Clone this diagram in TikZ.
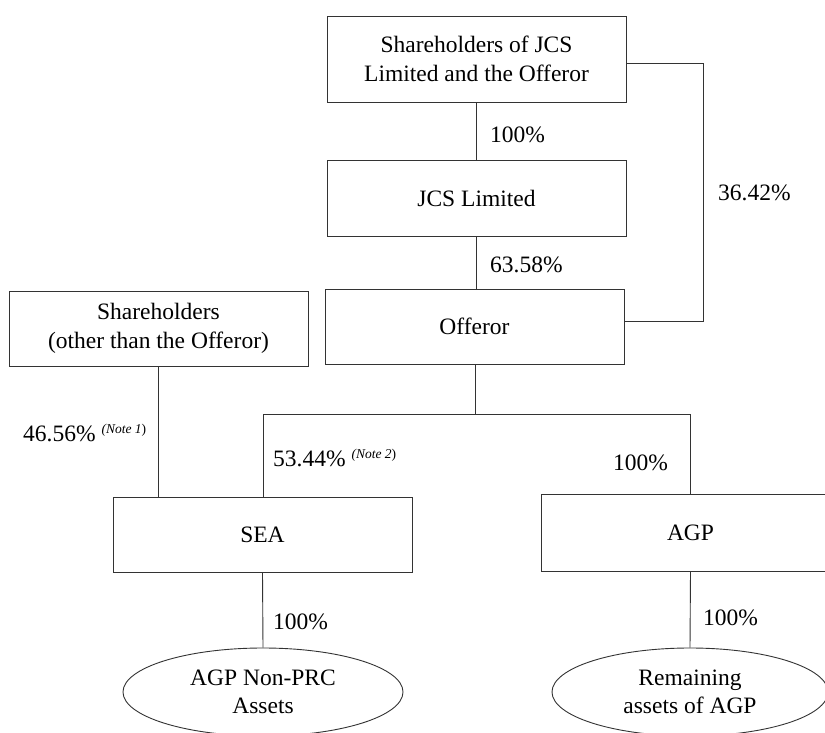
\documentclass[tikz,border=0pt]{standalone}
\usepackage{fontspec}
\setmainfont{Liberation Serif}
\usetikzlibrary{shapes.geometric}
\begin{document}
\begin{tikzpicture}[x=1pt,y=-1pt,
  every node/.style={font=\fontsize{23.5}{28.5}\selectfont},
  box/.style={draw=black!80,line width=0.9pt,minimum width=299pt,inner sep=0pt,align=center},
  oval/.style={draw=black!80,line width=0.9pt,ellipse,inner sep=0pt,align=center},
  pct/.style={anchor=west,inner sep=0pt},
  link/.style={draw=black!80,line width=0.9pt},
  note/.style={font=\fontsize{13.5}{15}\selectfont\itshape}]
\useasboundingbox (0,0) rectangle (825,733);
\clip (0,0) rectangle (825,733);
\node[box,minimum height=86pt] (top) at (476.5,59) {Shareholders of JCS\\Limited and the Offeror};
\node[box,minimum height=76pt] (jcs) at (476.5,198) {JCS Limited};
\node[box,minimum height=75pt] (off) at (474.5,326.5) {Offeror};
\node[box,minimum height=75pt] (sho) at (158.5,328.5) {Shareholders\\(other than the Offeror)};
\node[box,minimum height=75pt] (sea) at (262.5,534.5) {SEA};
\node[box,minimum height=77pt] (agp) at (690.5,532.5) {AGP};
\node[oval,minimum width=280pt,minimum height=88pt] (e1) at (263,692) {AGP Non-PRC\\Assets};
\node[oval,minimum width=276pt,minimum height=88pt] (e2) at (690,692) {Remaining\\assets of AGP};
\coordinate (rt) at (703,63);
\coordinate (br) at (475,414);
\coordinate (bl) at (263,414);
\coordinate (bx) at (690,414);
\draw[link] (top.south) -- (top.south |- jcs.north);
\draw[link] (jcs.south) -- (jcs.south |- off.north);
\draw[link] ([yshift=-4pt]top.east) -- (rt) |- ([yshift=5.5pt]off.east);
\draw[link] (off.south -| br) -- (br);
\draw[link] (bl |- sea.north) -- (bl) -- (bx) -- (bx |- agp.north);
\draw[link] (sho.south) -- (sho.south |- sea.north);
\draw[link] (sea.south) -- (e1.north);
\draw[link] (agp.south) -- (e2.north);
\node[pct] (l1) at (490,135) {100\%};
\node[pct] (l2) at (718,193) {36.42\%};
\node[pct] (l3) at (490,265) {63.58\%};
\node[pct] (l4) at (23,433) {46.56\% \raisebox{8pt}{\fontsize{13.5}{15}\selectfont\itshape (Note 1\upshape)}};
\node[pct] (l5) at (273,458) {53.44\% \raisebox{8pt}{\fontsize{13.5}{15}\selectfont\itshape (Note 2\upshape)}};
\node[pct] (l6) at (613,463) {100\%};
\node[pct] (l7) at (273,622) {100\%};
\node[pct] (l8) at (703,618) {100\%};
\end{tikzpicture}
\end{document}
